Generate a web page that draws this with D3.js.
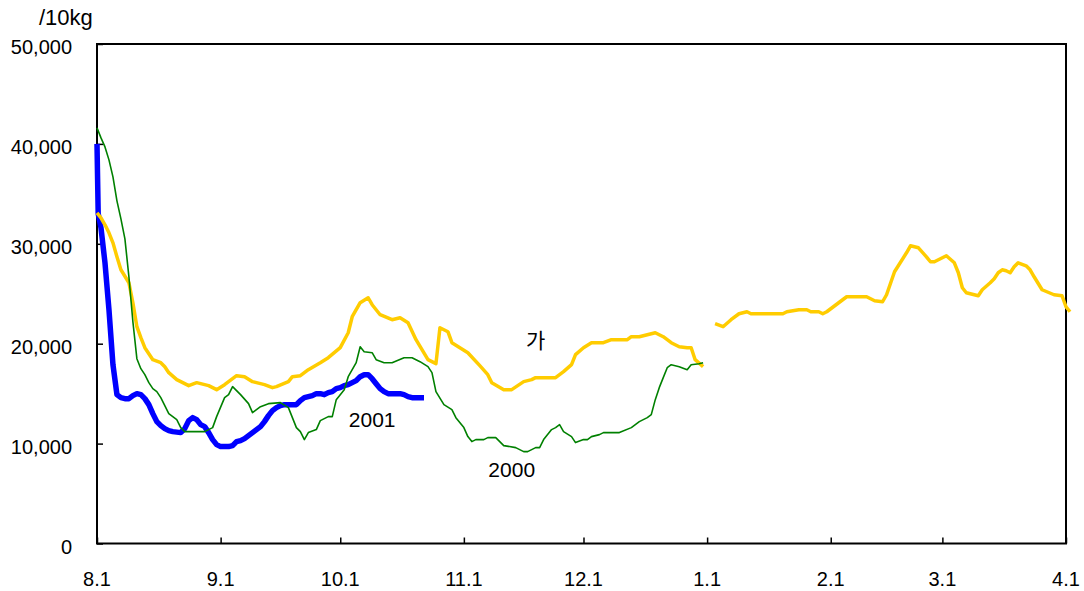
<!DOCTYPE html>
<html><head><meta charset="utf-8">
<script src="https://cdn.jsdelivr.net/npm/d3@7"></script>
<style>
html,body{margin:0;padding:0;background:#fff;}
svg text{font-family:"Liberation Sans",Arial,"Noto Sans CJK KR",sans-serif;fill:#000;}
</style></head>
<body>
<svg id="chart" width="1084" height="591"></svg>
<script>
// x value = days since Aug 1 (8.1)
const monthTicks = ["8.1","9.1","10.1","11.1","12.1","1.1","2.1","3.1","4.1"];
const yTicks = [0,10000,20000,30000,40000,50000];
const unitLabel = "/10kg";

// 가 (normal year average) — null marks the gap at 1.1
const seriesGa = [[0,33100],[1,32600],[2,31900],[3,31100],[4,30100],[5,28700],[6,27400],[8,26100],[9,24100],[10,21700],[11,20600],[12,19600],[14,18400],[16,18100],[17,17700],[18,17100],[20,16400],[23,15800],[25,16100],[28,15800],[30,15400],[32,15900],[33,16200],[35,16800],[37,16700],[39,16200],[42,15900],[44,15600],[45,15700],[48,16200],[49,16700],[51,16800],[53,17400],[56,18100],[58,18600],[61,19600],[63,21100],[64,22700],[66,24100],[68,24600],[69,23900],[71,22900],[74,22400],[76,22600],[78,22100],[80,20400],[83,18400],[85,18000],[86,21600],[88,21200],[89,20100],[93,19100],[96,17800],[98,16900],[99,16100],[102,15400],[104,15400],[107,16200],[109,16400],[110,16600],[115,16600],[117,17200],[119,17900],[120,18900],[122,19600],[124,20100],[127,20100],[129,20400],[133,20400],[134,20700],[136,20700],[138,20900],[140,21100],[142,20700],[144,20100],[146,19700],[148,19600],[149,19600],[150,18400],[152,17700],[153,null],[155,22000],[157,21700],[159,22400],[161,23000],[163,23200],[164,23000],[172,23000],[173,23200],[176,23400],[178,23400],[179,23200],[181,23200],[182,23000],[183,23200],[186,24100],[188,24700],[193,24700],[195,24300],[197,24200],[198,24900],[200,27200],[203,29100],[204,29800],[206,29600],[208,28700],[209,28200],[210,28200],[213,28800],[215,28100],[216,27100],[217,25600],[218,25100],[221,24800],[222,25400],[224,26100],[225,26500],[226,27100],[227,27400],[228,27300],[229,27100],[230,27700],[231,28100],[233,27800],[234,27400],[235,26700],[237,25400],[240,24900],[242,24800],[243,23700],[244,23200]];

const series2000 = [[0,41600],[1,40600],[2,39700],[3,38400],[4,36700],[5,34300],[6,32500],[7,30500],[8,26700],[9,22200],[10,18500],[11,17500],[12,16900],[13,16100],[14,15500],[15,15200],[16,14600],[17,13800],[18,13000],[19,12700],[20,12400],[21,11600],[22,11200],[27,11200],[29,11600],[30,12700],[32,14600],[33,14900],[34,15700],[36,14900],[38,14000],[39,13100],[41,13700],[43,14000],[46,14100],[48,13600],[50,11600],[51,11200],[52,10400],[53,11100],[55,11400],[56,12300],[58,12700],[59,12700],[60,14400],[62,15400],[63,16700],[65,18100],[66,19700],[67,19200],[69,19100],[70,18400],[72,18100],[74,18100],[77,18600],[79,18600],[81,18200],[83,17700],[84,17100],[85,15200],[87,13900],[89,13400],[90,12600],[92,11600],[93,10700],[94,10200],[95,10400],[97,10400],[98,10600],[100,10600],[102,9800],[105,9600],[107,9200],[108,9200],[110,9600],[111,9600],[112,10400],[114,11400],[115,11600],[116,11900],[117,11200],[119,10700],[120,10100],[122,10400],[123,10400],[124,10700],[126,10900],[127,11100],[131,11100],[134,11600],[136,12200],[138,12600],[139,12900],[140,14400],[141,15600],[142,16600],[143,17600],[144,17900],[146,17700],[148,17400],[149,17900],[151,18000],[152,18100]];

const series2001 = [[0,40000],[0.3,33000],[1,31600],[2,28100],[3,23400],[4,17900],[5,14900],[6,14600],[7,14500],[8,14500],[9,14800],[10,15000],[11,14900],[12,14500],[13,13900],[14,13000],[15,12200],[16,11800],[17,11500],[18,11300],[19,11200],[21,11100],[22,11500],[23,12300],[24,12600],[25,12400],[26,11900],[27,11700],[28,11100],[29,10400],[30,9900],[31,9700],[33,9700],[34,9800],[35,10200],[36,10300],[37,10500],[38,10800],[39,11100],[40,11400],[41,11700],[42,12200],[43,12800],[44,13300],[45,13600],[46,13800],[47,13900],[50,13900],[51,14300],[52,14600],[53,14700],[54,14800],[55,15000],[56,15000],[57,14900],[58,15100],[59,15200],[60,15500],[61,15600],[62,15800],[63,15900],[64,16100],[65,16300],[66,16700],[67,16900],[68,16900],[69,16500],[70,16000],[71,15500],[72,15200],[73,15000],[76,15000],[77,14900],[78,14700],[79,14600],[82,14600]];

const seriesLabels = [
  {text:"가", day:110, value:19600},
  {text:"2001", day:69, value:11650},
  {text:"2000", day:104, value:6660}
];

const svg = d3.select("#chart");
const L = 97, R = 1066, T = 44, B = 543.5;
const start = new Date(2001, 7, 1), end = new Date(2002, 3, 1);
const toDate = d => new Date(start.getTime() + d * 864e5);
const x = d3.scaleTime().domain([start, end]).range([L, R]);
const y = d3.scaleLinear().domain([0, 50000]).range([B, T]);

// axes (ticks pointing inward)
const tickDates = monthTicks.map((t, i) => d3.timeMonth.offset(start, i));
const xAxis = d3.axisTop(x).tickValues(tickDates).tickSize(6).tickFormat("");
const gx = svg.append("g").attr("transform", `translate(0,${B})`).call(xAxis);
gx.select(".domain").remove();
gx.selectAll(".tick line").attr("stroke", "#000").attr("stroke-width", 1.5);
svg.append("g").selectAll("text").data(monthTicks).join("text")
  .attr("x", (d, i) => x(tickDates[i])).attr("y", 586)
  .attr("text-anchor", "middle").attr("font-size", 20).text(d => d);

const yAxis = d3.axisRight(y).tickValues(yTicks).tickSize(6).tickFormat("");
const gy = svg.append("g").attr("transform", `translate(${L},0)`).call(yAxis);
gy.select(".domain").remove();
gy.selectAll(".tick line").attr("stroke", "#000").attr("stroke-width", 1.5);
svg.append("g").selectAll("text").data(yTicks).join("text")
  .attr("x", 72).attr("y", d => y(d) + 10)
  .attr("text-anchor", "end").attr("font-size", 20)
  .text(d => d3.format(",")(d));

svg.append("text").attr("x", 39).attr("y", 25).attr("font-size", 22).text(unitLabel);

// frame
svg.append("rect").attr("x", L).attr("y", T).attr("width", R - L).attr("height", B - T)
  .attr("fill", "none").attr("stroke", "#000").attr("stroke-width", 2);

const line = d3.line()
  .defined(d => d[1] !== null)
  .x(d => x(toDate(d[0]))).y(d => y(d[1]))
  .curve(d3.curveLinear);

svg.append("path").datum(series2001).attr("d", line)
  .attr("fill", "none").attr("stroke", "#0000FF").attr("stroke-width", 5.5)
  .attr("stroke-linejoin", "round");
svg.append("path").datum(seriesGa).attr("d", line)
  .attr("fill", "none").attr("stroke", "#FFCC00").attr("stroke-width", 3.5)
  .attr("stroke-linejoin", "round");
svg.append("path").datum(series2000).attr("d", line)
  .attr("fill", "none").attr("stroke", "#008000").attr("stroke-width", 1.6)
  .attr("stroke-linejoin", "round");

svg.append("g").selectAll("text").data(seriesLabels).join("text")
  .attr("x", d => x(toDate(d.day))).attr("y", d => y(d.value))
  .attr("text-anchor", "middle").attr("font-size", 21)
  .text(d => d.text);
</script>
</body></html>
